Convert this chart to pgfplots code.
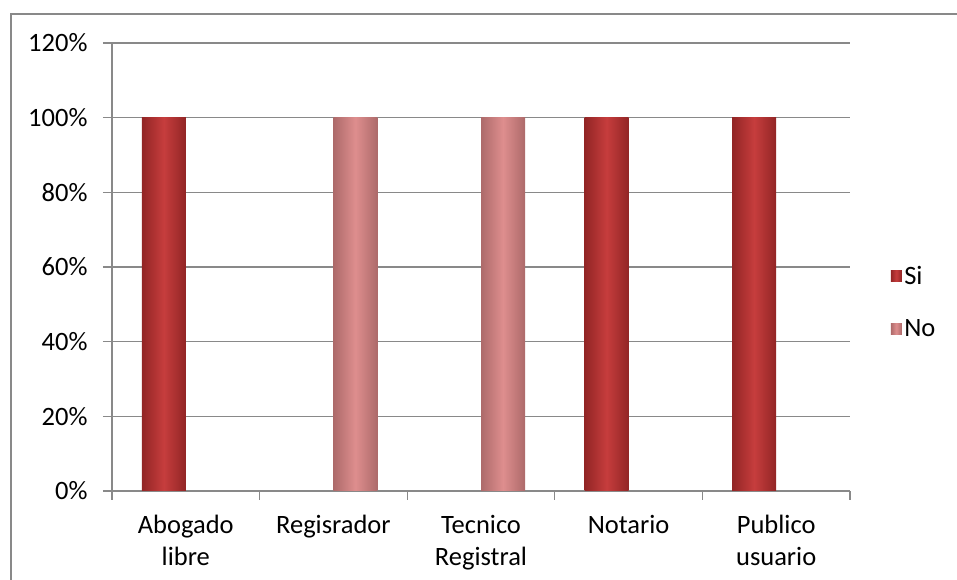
\documentclass[border=0pt]{standalone}
\usepackage{fontspec}
\setmainfont{Carlito}
\usepackage{pgfplots}
\pgfplotsset{compat=1.18}

\definecolor{siEdge}{HTML}{922525}
\definecolor{siMid}{HTML}{C63D3D}
\definecolor{noEdge}{HTML}{AD6A6A}
\definecolor{noMid}{HTML}{DE8E8E}
\definecolor{gridgray}{HTML}{898989}

\newcommand{\chartfont}{\fontsize{26.5bp}{32bp}\selectfont}

\pgfplotsset{
  squarelegend/.style={legend image code/.code={
      \fill[##1] (0bp,-5.5bp) rectangle (11bp,5.5bp);}},
  sibar/.style={ybar, bar width=44bp, bar shift=-22bp, draw=none,
    left color=siEdge, right color=siEdge, middle color=siMid, squarelegend},
  nobar/.style={ybar, bar width=44bp, bar shift=22bp, draw=none,
    left color=noEdge, right color=noEdge, middle color=noMid, squarelegend},
}

\begin{document}
\begin{tikzpicture}[x=1bp,y=1bp]
\useasboundingbox (0,0) rectangle (957,580);
% chart frame
\draw[gridgray, line width=1.3bp] (11,-5) -- (11,566) -- (970,566);
\begin{axis}[
  at={(112bp,89bp)}, anchor=south west,
  scale only axis, width=738bp, height=448bp,
  xmin=-0.5, xmax=4.5, ymin=0, ymax=120,
  axis lines*=left,
  axis line style={gridgray, line width=1.2bp},
  tick style={gridgray, line width=1.2bp},
  tick align=outside, major tick length=9bp,
  xtick={-0.5,0.5,1.5,2.5,3.5,4.5},
  xticklabels={,,,,,},
  extra x ticks={0,1,2,3,4},
  extra x tick labels={{Abogado\\libre},Regisrador,{Tecnico\\Registral},Notario,{Publico\\usuario}},
  extra x tick style={major tick length=0pt, xticklabel style={align=center, yshift=-21bp}},
  ytick={0,20,...,120},
  yticklabel={\pgfmathparse{int(\tick)}\pgfmathresult\%},
  yticklabel style={xshift=-12bp},
  ymajorgrids, grid style={gridgray, line width=1.2bp},
  tick label style={font=\chartfont, text=black},
  legend style={at={(1.055,0.422)}, anchor=west, draw=none, fill=none,
    inner sep=0pt, font=\chartfont, row sep=29bp,
    nodes={inner sep=2.5bp}},
  legend cell align=left,
]
% Si
\addplot[sibar] coordinates {(0,100)};
% No
\addplot[nobar] coordinates {(1,100)};
\addplot[nobar, forget plot] coordinates {(2,100)};
\addplot[sibar, forget plot] coordinates {(3,100)};
\addplot[sibar, forget plot] coordinates {(4,100)};
\legend{Si,No}
\end{axis}
\end{tikzpicture}
\end{document}
